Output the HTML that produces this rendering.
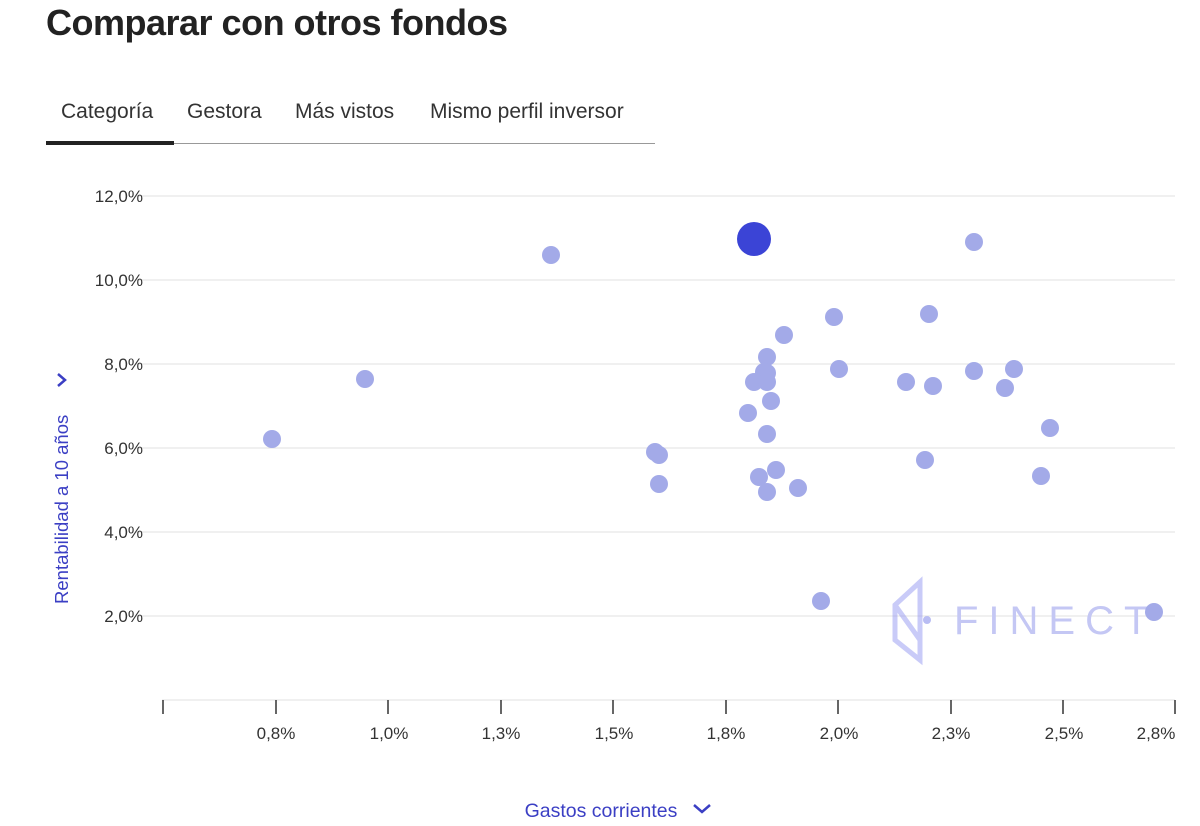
<!DOCTYPE html><html><head><meta charset="utf-8"><style>
body{margin:0;width:1200px;height:826px;background:#fff;font-family:"Liberation Sans",sans-serif;overflow:hidden;position:relative}
h1{position:absolute;left:46px;top:2px;margin:0;font-size:36px;font-weight:bold;color:#222;letter-spacing:-0.5px}
.tabs{position:absolute;top:100px;left:46px;font-size:21px;color:#333}
.tabs span{position:absolute;white-space:nowrap}
</style></head><body>
<h1>Comparar con otros fondos</h1>
<div class="tabs">
<span style="left:15px">Categoría</span><span style="left:141px">Gestora</span><span style="left:249px">Más vistos</span><span style="left:384px">Mismo perfil inversor</span>
</div>
<div style="position:absolute;left:46px;top:143px;width:609px;height:1px;background:#999"></div>
<div style="position:absolute;left:46px;top:141px;width:128px;height:4px;background:#222"></div>
<svg width="1200" height="826" style="position:absolute;left:0;top:0" font-family="Liberation Sans, sans-serif">
<g stroke="#e2e2e2" stroke-width="1">
<line x1="135" x2="1175" y1="196" y2="196"/><line x1="135" x2="1175" y1="280" y2="280"/><line x1="135" x2="1175" y1="364" y2="364"/><line x1="135" x2="1175" y1="448" y2="448"/><line x1="135" x2="1175" y1="532" y2="532"/><line x1="135" x2="1175" y1="616" y2="616"/><line x1="162" x2="1175" y1="700" y2="700"/>
</g>
<g fill="#333" font-size="17" text-anchor="end">
<text x="143" y="202">12,0%</text><text x="143" y="286">10,0%</text><text x="143" y="370">8,0%</text><text x="143" y="454">6,0%</text><text x="143" y="538">4,0%</text><text x="143" y="622">2,0%</text>
</g>
<g stroke="#333" stroke-width="1.5">
<line x1="163" x2="163" y1="700" y2="714"/><line x1="276" x2="276" y1="700" y2="714"/><line x1="388" x2="388" y1="700" y2="714"/><line x1="501" x2="501" y1="700" y2="714"/><line x1="613" x2="613" y1="700" y2="714"/><line x1="726" x2="726" y1="700" y2="714"/><line x1="838" x2="838" y1="700" y2="714"/><line x1="951" x2="951" y1="700" y2="714"/><line x1="1063" x2="1063" y1="700" y2="714"/><line x1="1175" x2="1175" y1="700" y2="714"/>
</g>
<g fill="#333" font-size="17" text-anchor="middle">
<text x="276" y="739">0,8%</text><text x="389" y="739">1,0%</text><text x="501" y="739">1,3%</text><text x="614" y="739">1,5%</text><text x="726" y="739">1,8%</text><text x="839" y="739">2,0%</text><text x="951" y="739">2,3%</text><text x="1064" y="739">2,5%</text><text x="1156" y="739">2,8%</text>
</g>
<text x="601" y="817" fill="#3b3fc4" font-size="19.5" text-anchor="middle">Gastos corrientes</text>
<path d="M694 805 l8 7 l8 -7" stroke="#3b3fc4" stroke-width="2.5" fill="none"/>
<text transform="translate(68,604) rotate(-90)" fill="#3b3fc4" font-size="18.5">Rentabilidad a 10 años</text>
<path d="M58 374 l7 6 l-7 6" stroke="#3b3fc4" stroke-width="2.5" fill="none"/>
<g opacity="0.45" fill="none" stroke="#8a8ef0" stroke-width="5">
<path d="M920 582 L895 605 L895 640 L920 660 Z"/><path d="M895 605 L920 640"/>
</g>
<circle cx="927" cy="620" r="4" fill="#b9bdf3"/>
<text x="954" y="634" fill="#c4c7f4" font-size="40" letter-spacing="10">FINECT</text>
<g fill="#a3aae8">
<circle cx="272" cy="439" r="9"/><circle cx="365" cy="379" r="9"/><circle cx="551" cy="255" r="9"/><circle cx="974" cy="242" r="9"/><circle cx="655" cy="452" r="9"/><circle cx="659" cy="455" r="9"/><circle cx="659" cy="484" r="9"/><circle cx="784" cy="335" r="9"/><circle cx="834" cy="317" r="9"/><circle cx="839" cy="369" r="9"/><circle cx="767" cy="357" r="9"/><circle cx="764" cy="372" r="9"/><circle cx="767" cy="373" r="9"/><circle cx="754" cy="382" r="9"/><circle cx="767" cy="382" r="9"/><circle cx="771" cy="401" r="9"/><circle cx="748" cy="413" r="9"/><circle cx="767" cy="434" r="9"/><circle cx="776" cy="470" r="9"/><circle cx="759" cy="477" r="9"/><circle cx="767" cy="492" r="9"/><circle cx="798" cy="488" r="9"/><circle cx="821" cy="601" r="9"/><circle cx="906" cy="382" r="9"/><circle cx="929" cy="314" r="9"/><circle cx="933" cy="386" r="9"/><circle cx="925" cy="460" r="9"/><circle cx="974" cy="371" r="9"/><circle cx="1014" cy="369" r="9"/><circle cx="1005" cy="388" r="9"/><circle cx="1050" cy="428" r="9"/><circle cx="1041" cy="476" r="9"/><circle cx="1154" cy="612" r="9"/>
</g>
<circle cx="754" cy="239" r="17" fill="#3b44d6"/>
</svg>
</body></html>
